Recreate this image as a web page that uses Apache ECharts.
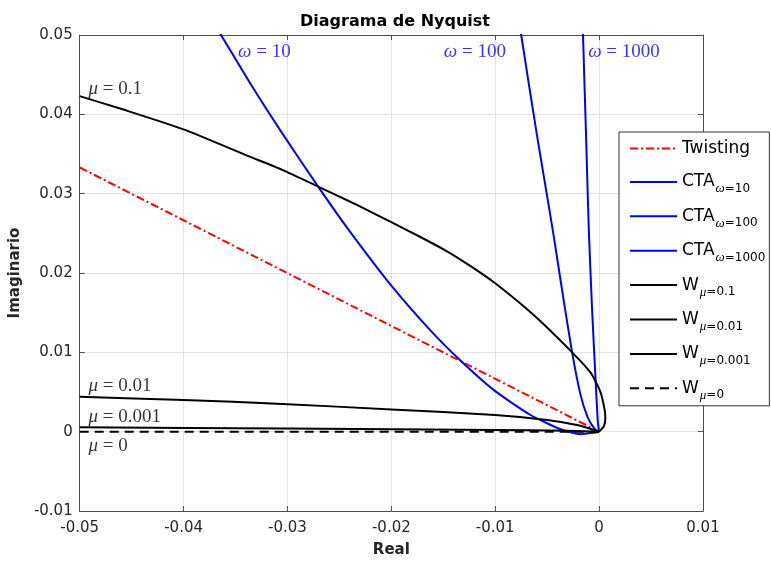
<!DOCTYPE html>
<html>
<head>
<meta charset="utf-8">
<title>Diagrama de Nyquist</title>
<script src="https://cdn.jsdelivr.net/npm/echarts@6/dist/echarts.min.js"></script>
<style>
  html, body { margin: 0; padding: 0; background: #fff; }
  #chart { width: 771px; height: 563px; }
</style>
</head>
<body>
<div id="chart"></div>
<script>
// Nyquist diagram, [real, imag]

var twisting = [[-0.05, 0.0333], [0, 0]];

var cta10 = [[-0.0378, 0.053], [-0.0364, 0.05], [-0.0334, 0.0435], [-0.0305, 0.0376], [-0.0269, 0.0306],
    [-0.0242, 0.0256], [-0.02, 0.0184], [-0.0162, 0.0127], [-0.0133, 0.0089], [-0.0101, 0.0052],
    [-0.0066, 0.0021], [-0.0037, 0.0003], [-0.0018, -0.00032], [-0.0005, -0.00013], [0, 0]];
var cta100 = [[-0.0079, 0.054], [-0.0075, 0.05], [-0.0060, 0.0375], [-0.0053, 0.032], [-0.0044, 0.0249],
    [-0.0035, 0.0173], [-0.0026, 0.0100], [-0.0018, 0.0047], [-0.0011, 0.0018], [-0.0004, 0.0003], [0, 0]];
var cta1000 = [[-0.0016, 0.054], [-0.00155, 0.05], [-0.00125, 0.037], [-0.001, 0.0257], [-0.00067, 0.0152],
    [-0.00035, 0.0068], [-0.00013, 0.0013], [0, 0]];

var w01 = [[-0.05, 0.0423], [-0.0458, 0.0406], [-0.04, 0.0381], [-0.0337, 0.0347], [-0.0305, 0.0330],
    [-0.0269, 0.0308], [-0.0235, 0.0287], [-0.02, 0.0264], [-0.0173, 0.0246], [-0.0146, 0.0227],
    [-0.0123, 0.0208], [-0.01, 0.0187], [-0.0063, 0.0147], [-0.0026, 0.0100], [-0.0008, 0.0074],
    [0.0001, 0.0051], [0.0005, 0.0030], [0.0006, 0.0018], [0.00046, 0.0007], [0, 0]];
var w001 = [[-0.05, 0.0044], [-0.04, 0.0040], [-0.0305, 0.0035], [-0.02, 0.0028], [-0.01, 0.0021],
    [-0.005, 0.00147], [-0.002, 0.0008], [0, 0]];
var w0001 = [[-0.05, 0.00055], [-0.03, 0.0004], [-0.01, 0.00022], [-0.003, 0.0001], [0, 0]];
var w0 = [[-0.05, 0], [0, 0]];

// curve notes: [real, imag, symbol, rest, colour]
var notes = [
    [-0.0492, 0.0432, 'μ', ' = 0.1', '#000'],
    [-0.0492, 0.0058, 'μ', ' = 0.01', '#000'],
    [-0.0492, 0.0018, 'μ', ' = 0.001', '#000'],
    [-0.0492, -0.0018, 'μ', ' = 0', '#000'],
    [-0.0348, 0.0479, 'ω', ' = 10', '#0000ff'],
    [-0.0150, 0.0479, 'ω', ' = 100', '#0000ff'],
    [-0.0011, 0.0479, 'ω', ' = 1000', '#0000ff']
];

var xMin = -0.05, xMax = 0.01, yMin = -0.01, yMax = 0.05, step = 0.01;

var chart = echarts.init(document.getElementById('chart'));

function lineSeries(name, data, color, type) {
    return {
        name: name,
        type: 'line',
        data: data,
        symbol: 'none',
        smooth: type === 'solid' ? 0.2 : false,
        lineStyle: { color: color, width: 2, type: type },
        itemStyle: { color: color },
        z: 3
    };
}

function tickFmt(v) {
    return String(+v.toFixed(2));
}

var axisCol = '#4d4d4d';
var font = 'DejaVu Sans';
var serif = 'Liberation Serif';

var option = {
    animation: false,
    backgroundColor: '#fff',
    title: {
        text: 'Diagrama de Nyquist',
        left: 390,
        textAlign: 'center',
        top: 9,
        textStyle: { fontFamily: font, fontSize: 16, fontWeight: 'bold', color: '#000' }
    },
    grid: { left: 76, right: 68, top: 35, bottom: 49 },
    xAxis: [{
        type: 'value', min: xMin, max: xMax, interval: step,
        name: 'Real', nameLocation: 'middle', nameGap: 32,
        nameTextStyle: { fontFamily: font, fontSize: 15, fontWeight: 'bold', color: '#262626' },
        axisLine: { onZero: false, lineStyle: { color: axisCol } },
        axisTick: { inside: true, length: 5, lineStyle: { color: axisCol } },
        axisLabel: { formatter: tickFmt, margin: 10, fontFamily: font, fontSize: 15, color: '#262626' },
        splitLine: { show: true, lineStyle: { color: '#e3e3e3' } }
    }, {
        type: 'value', min: xMin, max: xMax, interval: step, position: 'top',
        axisLine: { onZero: false, lineStyle: { color: axisCol } },
        axisTick: { inside: true, length: 5, lineStyle: { color: axisCol } },
        axisLabel: { show: false },
        splitLine: { show: false }
    }],
    yAxis: [{
        type: 'value', min: yMin, max: yMax, interval: step,
        name: 'Imaginario', nameLocation: 'middle', nameGap: 55,
        nameTextStyle: { fontFamily: font, fontSize: 15, fontWeight: 'bold', color: '#262626' },
        axisLine: { show: true, onZero: false, lineStyle: { color: axisCol } },
        axisTick: { show: true, inside: true, length: 5, lineStyle: { color: axisCol } },
        axisLabel: { formatter: tickFmt, margin: 7, fontFamily: font, fontSize: 15, color: '#262626' },
        splitLine: { show: true, lineStyle: { color: '#e3e3e3' } }
    }, {
        type: 'value', min: yMin, max: yMax, interval: step, position: 'right',
        axisLine: { show: true, onZero: false, lineStyle: { color: axisCol } },
        axisTick: { show: true, inside: true, length: 5, lineStyle: { color: axisCol } },
        axisLabel: { show: false },
        splitLine: { show: false }
    }],
    legend: {
        orient: 'vertical',
        left: 619,
        top: 132,
        padding: [4, 4, 4, 10],
        itemGap: 7.4,
        itemWidth: 47,
        itemHeight: 14,
        itemStyle: { opacity: 0 },
        backgroundColor: '#fff',
        borderColor: '#333',
        borderWidth: 1,
        borderRadius: 0,
        z: 10,
        data: ['Twisting', 'CTA ω=10', 'CTA ω=100', 'CTA ω=1000', 'W μ=0.1', 'W μ=0.01', 'W μ=0.001', 'W μ=0'],
        formatter: function (name) {
            var parts = name.split(' ');
            if (parts.length === 1) return '{a|' + name + '}';
            return '{a|' + parts[0] + '}{si|' + parts[1].charAt(0) + '}{s|' + parts[1].slice(1) + '}';
        },
        textStyle: {
            fontFamily: font, color: '#000',
            rich: {
                a: { fontFamily: font, fontSize: 17, lineHeight: 20, padding: [4, 0, 4, 0] },
                si: { fontFamily: serif, fontStyle: 'italic', fontSize: 13, lineHeight: 14, padding: [14, 0, 0, 1] },
                s: { fontFamily: font, fontSize: 12, lineHeight: 14, padding: [14, 0, 0, 0] }
            }
        }
    },
    series: [
        lineSeries('Twisting', twisting, '#ff0000', [8, 3, 2, 3]),
        lineSeries('CTA ω=10', cta10, '#0000ff', 'solid'),
        lineSeries('CTA ω=100', cta100, '#0000ff', 'solid'),
        lineSeries('CTA ω=1000', cta1000, '#0000ff', 'solid'),
        lineSeries('W μ=0.1', w01, '#000000', 'solid'),
        lineSeries('W μ=0.01', w001, '#000000', 'solid'),
        lineSeries('W μ=0.001', w0001, '#000000', 'solid'),
        lineSeries('W μ=0', w0, '#000000', [9, 6]),
        {
            type: 'scatter',
            silent: true,
            symbolSize: 1,
            itemStyle: { color: 'rgba(0,0,0,0)' },
            data: notes.map(function (n) {
                return {
                    value: [n[0], n[1]],
                    label: { rich: {
                        i: { color: n[4], fontFamily: serif, fontStyle: 'italic', fontSize: 19 },
                        r: { color: n[4], fontFamily: serif, fontSize: 19 }
                    } }
                };
            }),
            label: {
                show: true,
                position: 'right',
                distance: 0,
                formatter: function (p) {
                    var n = notes[p.dataIndex];
                    return '{i|' + n[2] + '}{r|' + n[3] + '}';
                }
            },
            z: 4
        }
    ]
};

chart.setOption(option);
</script>
</body>
</html>
